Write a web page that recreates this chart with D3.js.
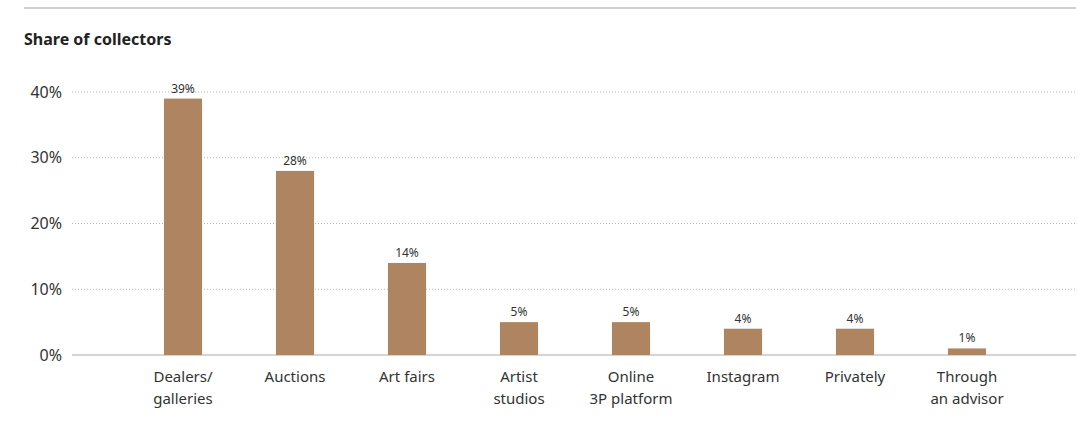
<!DOCTYPE html>
<html>
<head>
<meta charset="utf-8">
<script src="https://cdn.jsdelivr.net/npm/d3@7"></script>
<style>
  body { margin: 0; background: #fff; }
  text { font-family: "Noto Sans", sans-serif; fill: #333; }
</style>
</head>
<body>
<div class="barchart"></div>
<script>
var width = 1078,
  height = 421

// data
var categories = ['Dealers/\ngalleries', 'Auctions', 'Art fairs', 'Artist\nstudios',
  'Online\n3P platform', 'Instagram', 'Privately', 'Through\nan advisor']
var shares = [39, 28, 14, 5, 5, 4, 4, 1]
var yTicks = [0, 10, 20, 30, 40]

var svg = d3.select('.barchart')
  .append('svg')
  .attr('width', width)
  .attr('height', height)

// top rule
svg.append('line')
  .attr('x1', 24).attr('x2', 1076)
  .attr('y1', 8).attr('y2', 8)
  .attr('stroke', '#d0d0d0')
  .attr('stroke-width', 2)

svg.append('text')
  .attr('x', 24).attr('y', 45)
  .attr('font-size', '16px')
  .attr('font-weight', 'bold')
  .style('fill', '#222')
  .text('Share of collectors')

var xScale = d3.scaleBand()
  .domain(categories)
  .range([127, 1023])
  .paddingInner(0.66)
  .paddingOuter(0.33)

var yScale = d3.scaleLinear()
  .domain([0, 40])
  .range([355, 92])

// grid
svg.selectAll('.grid')
  .data(yTicks.filter(function(d) { return d > 0 }))
  .enter()
  .append('line')
  .attr('class', 'grid')
  .attr('x1', 72).attr('x2', 1076)
  .attr('y1', function(d) { return yScale(d) })
  .attr('y2', function(d) { return yScale(d) })
  .attr('stroke', '#b8b8b8')
  .attr('stroke-width', 1)
  .attr('stroke-dasharray', '1,2')

svg.append('line')
  .attr('x1', 72).attr('x2', 1076)
  .attr('y1', yScale(0)).attr('y2', yScale(0))
  .attr('stroke', '#aaa')
  .attr('stroke-width', 1)

// y labels
svg.selectAll('.ylab')
  .data(yTicks)
  .enter()
  .append('text')
  .attr('class', 'ylab')
  .attr('x', 62)
  .attr('y', function(d) { return yScale(d) })
  .attr('dy', '0.35em')
  .attr('text-anchor', 'end')
  .attr('font-size', '16px')
  .text(function(d) { return d + '%' })

// bars
svg.selectAll('rect')
  .data(shares)
  .enter()
  .append('rect')
  .attr('x', function(d, i) { return xScale(categories[i]) })
  .attr('y', function(d) { return yScale(d) })
  .attr('width', xScale.bandwidth())
  .attr('height', function(d) { return yScale(0) - yScale(d) })
  .attr('fill', '#af8461')

// value labels
svg.selectAll('.val')
  .data(shares)
  .enter()
  .append('text')
  .attr('class', 'val')
  .attr('x', function(d, i) { return xScale(categories[i]) + xScale.bandwidth() / 2 })
  .attr('y', function(d) { return yScale(d) - 6 })
  .attr('text-anchor', 'middle')
  .attr('font-size', '12px')
  .text(function(d) { return d + '%' })

// category labels
var cats = svg.selectAll('.cat')
  .data(categories)
  .enter()
  .append('text')
  .attr('class', 'cat')
  .attr('x', function(d) { return xScale(d) + xScale.bandwidth() / 2 })
  .attr('y', 382)
  .attr('text-anchor', 'middle')
  .attr('font-size', '15px')

cats.selectAll('tspan')
  .data(function(d) { return d.split('\n') })
  .enter()
  .append('tspan')
  .attr('x', function() { return d3.select(this.parentNode).attr('x') })
  .attr('dy', function(d, i) { return i === 0 ? 0 : 22 })
  .text(function(d) { return d })
</script>
</body>
</html>
